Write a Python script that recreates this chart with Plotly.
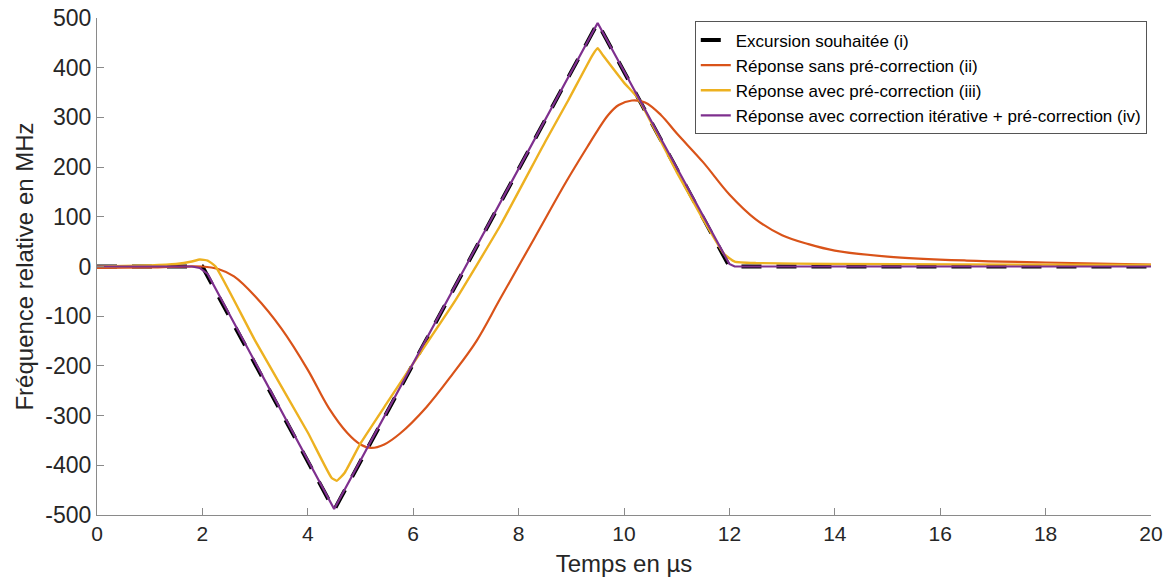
import plotly.graph_objects as go

# Desired excursion (i)
t_i = [0, 2, 4.5, 9.5, 12, 20]
v_i = [0, 0, -490, 490, 0, 0]

# Response without pre-correction (ii)
t_ii = [0, 1, 2, 2.3, 2.6, 3.0, 3.5, 4.0, 4.4, 4.75, 5.0, 5.2, 5.45, 5.75, 6.25, 6.75,
        7.2, 7.65, 8.3, 8.9, 9.3, 9.5, 9.7, 9.9, 10.15, 10.4, 10.7, 11.0, 11.5, 12.0, 12.5,
        13.0, 13.5, 14.0, 15.0, 16.5, 18.0, 20.0]
v_ii = [-3, -2, 0, -5, -20, -60, -125, -208, -285, -335, -358, -365, -358, -336, -283, -216,
        -150, -65, 57, 170, 240, 274, 305, 325, 334, 330, 305, 268, 210, 145, 95,
        63, 45, 32, 20, 12, 8, 4]

# Response with pre-correction (iii)
t_iii = [0, 1, 1.5, 1.8, 1.95, 2.1, 2.25, 3.0, 4.0, 4.45, 4.55, 4.7, 5.0, 5.5, 6.0, 6.8,
         7.65, 8.5, 8.94, 9.4, 9.5, 9.6, 10.0, 10.27, 11.0, 11.5, 11.9, 12.1, 12.5, 14.0, 20.0]
v_iii = [0, 2, 5, 10, 14, 12, 0, -149, -334, -425, -431, -415, -356, -275, -195, -68,
         82, 250, 334, 425, 439, 425, 370, 338, 190, 95, 25, 10, 7, 5, 3]

# Response with iterative correction + pre-correction (iv)
t_iv = [0, 1.8, 1.95, 2.1, 4.5, 9.5, 12.0, 12.1, 20]
v_iv = [0, 0, -3, -15, -488, 490, 5, 0, 0]

names = ["Excursion souhaitée (i)",
         "Réponse sans pré-correction (ii)",
         "Réponse avec pré-correction (iii)",
         "Réponse avec correction itérative + pré-correction (iv)"]

x_ticks = list(range(0, 21, 2))
y_ticks = list(range(-500, 501, 100))

FONT = "Liberation Sans, Arial, Helvetica, sans-serif"
TXT = "#262626"
AX = "#8a8a8a"

fig = go.Figure()
fig.add_trace(go.Scatter(x=t_i, y=v_i, mode="lines", name=names[0],
                         line=dict(color="black", width=4, dash="20px,15px")))
fig.add_trace(go.Scatter(x=t_ii, y=v_ii, mode="lines", name=names[1],
                         line=dict(color="#D95319", width=2.2, shape="spline", smoothing=1.0)))
fig.add_trace(go.Scatter(x=t_iii, y=v_iii, mode="lines", name=names[2],
                         line=dict(color="#EDB120", width=2.4, shape="spline", smoothing=0.4)))
fig.add_trace(go.Scatter(x=t_iv, y=v_iv, mode="lines", name=names[3],
                         line=dict(color="#7E2F8E", width=2.2)))

fig.update_layout(
    template="none",
    width=1169, height=578,
    margin=dict(l=97, r=18, t=18, b=63, autoexpand=False),
    paper_bgcolor="white", plot_bgcolor="white",
    font=dict(family=FONT, color=TXT),
    showlegend=True,
    legend=dict(x=0.996, xanchor="right", y=0.993, yanchor="top",
                bgcolor="white", bordercolor="#555", borderwidth=1,
                font=dict(size=17, color="black", family=FONT),
                tracegroupgap=0, itemwidth=30),
    xaxis=dict(range=[0, 20], tickvals=x_ticks, ticktext=[str(v) for v in x_ticks],
               automargin=False,
               ticks="inside", ticklen=7, tickcolor=AX, showline=True, linecolor=AX,
               linewidth=1, showgrid=False, zeroline=False,
               tickfont=dict(size=21, color=TXT),
               title=dict(text="Temps en µs", font=dict(size=24, color=TXT), standoff=10)),
    yaxis=dict(range=[-500, 500], tickvals=y_ticks, ticktext=[str(v) for v in y_ticks],
               automargin=False,
               ticks="inside", ticklen=7, tickcolor=AX, showline=True, linecolor=AX,
               linewidth=1, showgrid=False, zeroline=False,
               tickfont=dict(size=23, color=TXT),
               title=dict(text="Fréquence relative en MHz", font=dict(size=24, color=TXT),
                          standoff=4)),
)

fig.write_html("out.html", config={"displayModeBar": False},
               post_script="document.body.style.margin='0';document.body.style.overflow='hidden';")
